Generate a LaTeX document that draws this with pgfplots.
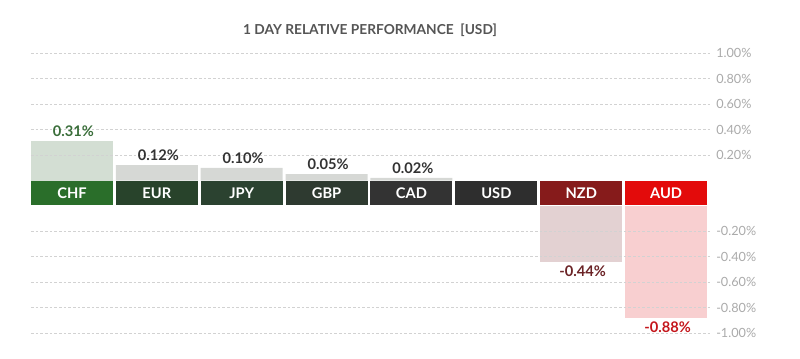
\documentclass[border=0pt]{standalone}
\usepackage{pgfplots}
\pgfplotsset{compat=1.18}
\usepackage{fontspec}
\setmainfont{Lato}

\definecolor{titlec}{HTML}{555555}
\definecolor{tickc}{HTML}{AAAAAA}
\definecolor{gridc}{HTML}{D2D2D2}
\definecolor{bchf}{HTML}{2A6E2A}
\definecolor{beur}{HTML}{28432B}
\definecolor{bjpy}{HTML}{2B4230}
\definecolor{bgbp}{HTML}{2E3A30}
\definecolor{bcad}{HTML}{333333}
\definecolor{busd}{HTML}{2E2E2E}
\definecolor{bnzd}{HTML}{861B1B}
\definecolor{baud}{HTML}{E30B0B}
\definecolor{fchf}{HTML}{D3DED3}
\definecolor{fgrey}{HTML}{D6D8D5}
\definecolor{fnzd}{HTML}{E3D1D2}
\definecolor{faud}{HTML}{F8CFD0}
\definecolor{lchf}{HTML}{3A6E3A}
\definecolor{lgrey}{HTML}{333333}
\definecolor{lnzd}{HTML}{6B2326}
\definecolor{laud}{HTML}{C4161C}

\pgfplotsset{
  myax/.style={
    scale only axis, width=509.25pt, height=95.625pt,
    xmin=-0.5, xmax=7.5,
    axis line style={draw=none}, major tick length=0pt,
    xtick=\empty,
    ymajorgrids, grid style={gridc, dash pattern=on 2pt off 1.5pt, line width=0.5pt},
    yticklabel pos=right,
    yticklabel style={anchor=west, inner sep=0pt, xshift=4.5pt, text=tickc,
      font=\fontsize{9.5}{11}\selectfont},
    clip=false, axis on top,
  },
  mybar/.style={ybar, bar width=0.966, bar shift=-0.017, draw=none, fill=#1},
  lab/.style 2 args={nodes near coords, point meta=explicit symbolic,
    every node near coord/.append style={anchor=#1, text=#2, inner sep=3pt,
      font=\fontsize{11}{13}\selectfont\bfseries}},
}

\begin{document}
\begin{tikzpicture}
\path[use as bounding box] (0,0) rectangle (600pt,-268.5pt);
\node[font=\fontsize{10.3}{12}\selectfont\bfseries, text=titlec] at (277.5pt,-22.9pt)
  {1 DAY RELATIVE PERFORMANCE\ \ [USD]};

% positive side
\begin{axis}[myax, at={(23.25pt,-135.375pt)}, anchor=south west,
  ymin=0, ymax=1.0,
  ytick={0.2,0.4,0.6,0.8,1.0},
  yticklabels={0.20\%,0.40\%,0.60\%,0.80\%,1.00\%}]
\addplot[mybar=fchf, lab={south}{lchf}] coordinates {(0,0.31) [0.31\%]};
\addplot[mybar=fgrey, lab={south}{lgrey}] coordinates {(1,0.12) [0.12\%] (2,0.10) [0.10\%] (3,0.05) [0.05\%] (4,0.02) [0.02\%]};
% currency label band
\fill[bchf] (axis cs:-0.5,0) rectangle (axis cs:0.466,-0.196);
\fill[beur] (axis cs:0.5,0) rectangle (axis cs:1.466,-0.196);
\fill[bjpy] (axis cs:1.5,0) rectangle (axis cs:2.466,-0.196);
\fill[bgbp] (axis cs:2.5,0) rectangle (axis cs:3.466,-0.196);
\fill[bcad] (axis cs:3.5,0) rectangle (axis cs:4.466,-0.196);
\fill[busd] (axis cs:4.5,0) rectangle (axis cs:5.466,-0.196);
\fill[bnzd] (axis cs:5.5,0) rectangle (axis cs:6.466,-0.196);
\fill[baud] (axis cs:6.5,0) rectangle (axis cs:7.466,-0.196);
\begin{scope}[every node/.style={text=white, font=\fontsize{11}{13}\selectfont\bfseries}]
\node at (axis cs:-0.017,-0.098) {CHF};
\node at (axis cs:0.983,-0.098) {EUR};
\node at (axis cs:1.983,-0.098) {JPY};
\node at (axis cs:2.983,-0.098) {GBP};
\node at (axis cs:3.983,-0.098) {CAD};
\node at (axis cs:4.983,-0.098) {USD};
\node at (axis cs:5.983,-0.098) {NZD};
\node at (axis cs:6.983,-0.098) {AUD};
\end{scope}
\end{axis}

% negative side
\begin{axis}[myax, at={(23.25pt,-154.125pt)}, anchor=north west,
  ymin=-1.0, ymax=0,
  ytick={-1.0,-0.8,-0.6,-0.4,-0.2},
  yticklabels={-1.00\%,-0.80\%,-0.60\%,-0.40\%,-0.20\%}]
\addplot[mybar=fnzd, lab={north}{lnzd}] coordinates {(6,-0.44) [-0.44\%]};
\addplot[mybar=faud, lab={north}{laud}] coordinates {(7,-0.88) [-0.88\%]};
\end{axis}
\end{tikzpicture}
\end{document}
